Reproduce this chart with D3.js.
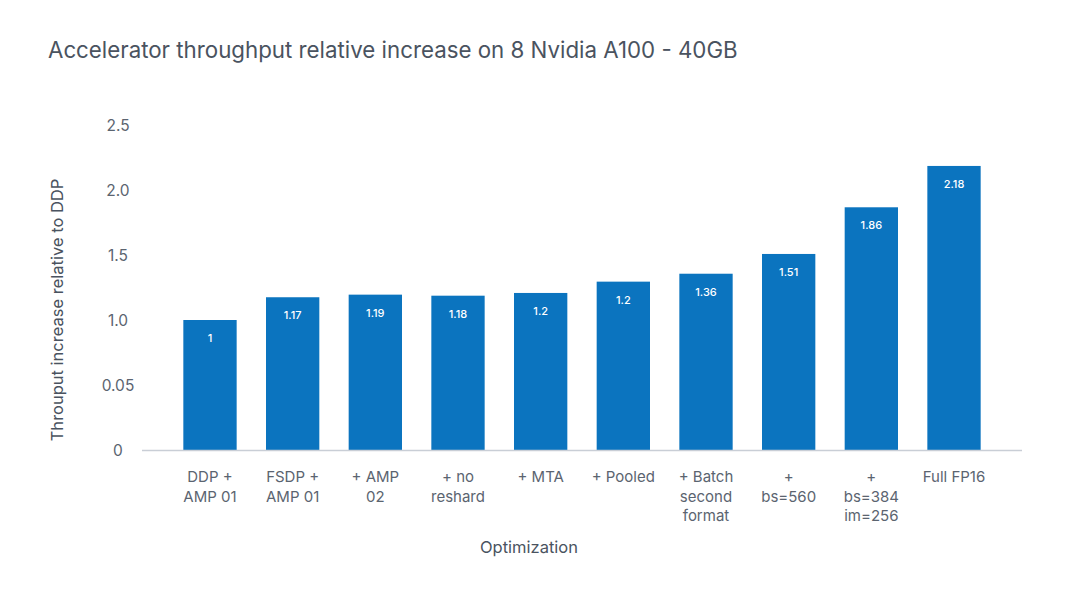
<!DOCTYPE html>
<html>
<head>
<meta charset="utf-8">
<script src="https://cdn.jsdelivr.net/npm/d3@7"></script>
<style>
  body { margin: 0; background: #fff; }
  text { font-family: "Inter", "Noto Sans", sans-serif; }
</style>
</head>
<body>
<div id="chart"></div>
<script>
// categories (x axis, split into lines)
var categories = [
  ["DDP +", "AMP 01"],
  ["FSDP +", "AMP 01"],
  ["+ AMP", "02"],
  ["+ no", "reshard"],
  ["+ MTA"],
  ["+ Pooled"],
  ["+ Batch", "second", "format"],
  ["+", "bs=560"],
  ["+", "bs=384", "im=256"],
  ["Full FP16"]
];
// bar heights as drawn
var values = [1.0, 1.175, 1.195, 1.187, 1.208, 1.295, 1.356, 1.508, 1.867, 2.185];
// printed labels on the bars
var barLabels = ["1", "1.17", "1.19", "1.18", "1.2", "1.2", "1.36", "1.51", "1.86", "2.18"];
// y ticks (labels as printed)
var yTicks = [0, 0.5, 1.0, 1.5, 2.0, 2.5];
var yTickLabels = ["0", "0.05", "1.0", "1.5", "2.0", "2.5"];

var width = 1080, height = 608;

var svg = d3.select("#chart")
  .append("svg")
  .attr("width", width)
  .attr("height", height);

// title
svg.append("text")
  .attr("x", 48)
  .attr("y", 58)
  .attr("fill", "#4a5360")
  .style("font-size", "22.3px")
  .text("Accelerator throughput relative increase on 8 Nvidia A100 - 40GB");

var x = d3.scaleBand()
  .domain(d3.range(categories.length))
  .range([142, 1022])
  .paddingInner(0.355)
  .paddingOuter(0.5);

var y = d3.scaleLinear()
  .domain([0, 2.5])
  .range([450, 125]);

// y tick labels
svg.append("g")
  .selectAll("text")
  .data(yTicks)
  .enter()
  .append("text")
  .attr("x", 118)
  .attr("y", (d) => y(d))
  .attr("dy", "0.36em")
  .attr("text-anchor", "middle")
  .attr("fill", "#5b6470")
  .style("font-size", "15.5px")
  .text((d, i) => yTickLabels[i]);

// bars
svg.append("g")
  .selectAll("rect")
  .data(values)
  .enter()
  .append("rect")
  .attr("x", (d, i) => x(i))
  .attr("y", (d) => y(d))
  .attr("width", x.bandwidth())
  .attr("height", (d) => y(0) - y(d))
  .attr("fill", "#0b74bf");

// bar labels
svg.append("g")
  .selectAll("text")
  .data(values)
  .enter()
  .append("text")
  .attr("x", (d, i) => x(i) + x.bandwidth() / 2)
  .attr("y", (d) => y(d) + 22)
  .attr("text-anchor", "middle")
  .attr("fill", "#fff")
  .style("font-size", "11px")
  .style("font-weight", "500")
  .text((d, i) => barLabels[i]);

// baseline
svg.append("line")
  .attr("x1", 142)
  .attr("x2", 1022)
  .attr("y1", y(0) + 0.5)
  .attr("y2", y(0) + 0.5)
  .attr("stroke", "#c9ced6")
  .attr("stroke-width", 1.5);

// x tick labels
var xl = svg.append("g")
  .selectAll("text")
  .data(categories)
  .enter()
  .append("text")
  .attr("x", (d, i) => x(i) + x.bandwidth() / 2)
  .attr("y", 482)
  .attr("text-anchor", "middle")
  .attr("fill", "#5b6470")
  .style("font-size", "15px");

xl.selectAll("tspan")
  .data((d) => d)
  .enter()
  .append("tspan")
  .attr("x", function() { return d3.select(this.parentNode).attr("x"); })
  .attr("dy", (d, i) => i === 0 ? 0 : 19.5)
  .text((d) => d);

// axis titles
svg.append("text")
  .attr("x", 529)
  .attr("y", 553)
  .attr("text-anchor", "middle")
  .attr("fill", "#4a5360")
  .style("font-size", "16.5px")
  .text("Optimization");

svg.append("text")
  .attr("transform", "translate(63,310) rotate(-90)")
  .attr("text-anchor", "middle")
  .attr("fill", "#4a5360")
  .style("font-size", "16.5px")
  .text("Throuput increase relative to DDP");
</script>
</body>
</html>
